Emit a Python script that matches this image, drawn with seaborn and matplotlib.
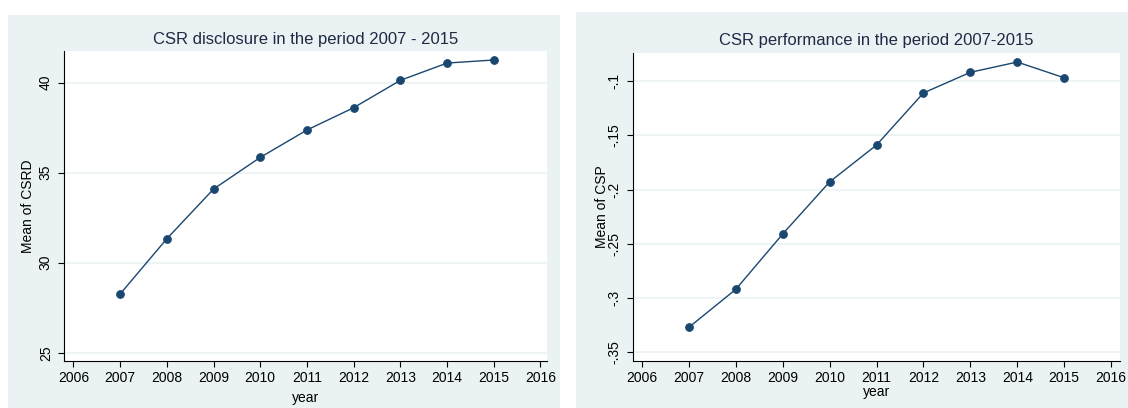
import matplotlib
matplotlib.use("Agg")
import matplotlib.pyplot as plt
import seaborn as sns
import pandas as pd
from matplotlib.patches import Rectangle

years = [2007, 2008, 2009, 2010, 2011, 2012, 2013, 2014, 2015]
csrd_mean = [28.26, 31.33, 34.09, 35.85, 37.37, 38.61, 40.13, 41.09, 41.26]
csp_mean = [-0.327, -0.292, -0.241, -0.193, -0.159, -0.111, -0.092, -0.0825, -0.097]

x_ticks = list(range(2006, 2017))
csrd_ticks = [25, 30, 35, 40]
csrd_labels = ["25", "30", "35", "40"]
csp_ticks = [-0.35, -0.3, -0.25, -0.2, -0.15, -0.1]
csp_labels = ["-.35", "-.3", "-.25", "-.2", "-.15", "-.1"]

title_left = "CSR disclosure in the period 2007 - 2015"
title_right = "CSR performance in the period 2007-2015"

sns.set_theme(style="white")
plt.rcParams["font.family"] = ["Liberation Sans", "DejaVu Sans"]

BG = "#EAF2F3"
NAVY = "#1A476F"
TXT = "#1f2a44"
W, H = 1128, 408

fig = plt.figure(figsize=(W / 100, H / 100), dpi=100, facecolor="white")

def px_rect(x0, y0, x1, y1):
    return [x0 / W, 1 - y1 / H, (x1 - x0) / W, (y1 - y0) / H]

# panel backgrounds
for (x0, y0, x1, y1) in [(8, 15, 560, 408), (576, 12, 1128, 408)]:
    r = px_rect(x0, y0, x1, y1)
    fig.patches.append(Rectangle((r[0], r[1]), r[2], r[3], transform=fig.transFigure,
                                 facecolor=BG, edgecolor="none", zorder=-10))

ax1 = fig.add_axes(px_rect(64.3, 51, 547, 361))
ax2 = fig.add_axes(px_rect(633, 52.7, 1120, 361))

df1 = pd.DataFrame({"year": years, "val": csrd_mean})
df2 = pd.DataFrame({"year": years, "val": csp_mean})

specs = [
    (ax1, df1, title_left, "Mean of CSRD", csrd_ticks, csrd_labels,
     (2005.805, 2016.14), (24.54, 41.76), 4.8, 4.0, 3.0),
    (ax2, df2, title_right, "Mean of CSP", csp_ticks, csp_labels,
     (2005.81, 2016.19), (-0.358, -0.0739), 5.8, 0.0, -1.0),
]

for ax, df, title, ylab, yt, ytl, xl, yl, tpad, xlpad, ylpad in specs:
    ax.set_facecolor("white")
    for yv in yt:
        ax.axhline(yv, color=BG, lw=1.2, zorder=0)
    sns.lineplot(data=df, x="year", y="val", ax=ax, color=NAVY, lw=1.0,
                 marker="o", markersize=5.5, markeredgecolor=NAVY,
                 markerfacecolor=NAVY, zorder=3)
    ax.set_xlim(*xl)
    ax.set_ylim(*yl)
    ax.set_xticks(x_ticks)
    ax.set_xticklabels([str(v) for v in x_ticks])
    ax.set_yticks(yt)
    ax.set_yticklabels(ytl, rotation=90, va="center")
    ax.grid(False)
    for s in ["top", "right"]:
        ax.spines[s].set_visible(False)
    for s in ["left", "bottom"]:
        ax.spines[s].set_color("#000000")
        ax.spines[s].set_linewidth(0.8)
    ax.tick_params(axis="both", direction="out", length=4.3, width=0.8,
                   color="#000000", labelsize=10, labelcolor="#000000",
                   left=True, bottom=True)
    ax.tick_params(axis="y", pad=4)
    ax.tick_params(axis="x", pad=3)
    ax.set_title(title, fontsize=12, color=TXT, pad=tpad)
    ax.set_xlabel("year", fontsize=10, color="#000000", labelpad=xlpad)
    ax.set_ylabel(ylab, fontsize=10, color="#000000", labelpad=ylpad)

fig.savefig("out.png", dpi=100, facecolor="white")
